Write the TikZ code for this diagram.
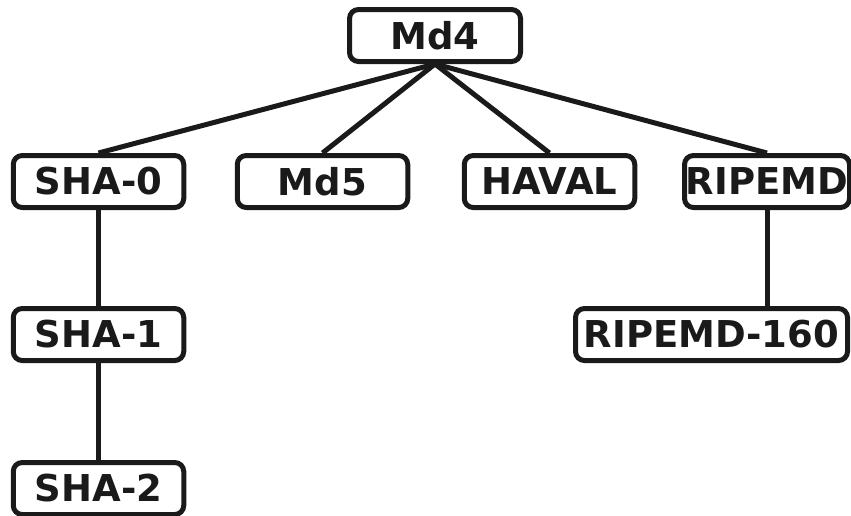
\documentclass[tikz,border=0pt]{standalone}
\usepackage{fontspec}
\setmainfont{DejaVu Sans}
\definecolor{ink}{RGB}{26,26,26}
\begin{document}
\begin{tikzpicture}[x=1pt,y=-1pt,
  hashbox/.style={draw=ink, line width=5pt, rounded corners=9pt, fill=white,
    minimum height=52pt, inner sep=0pt, text=ink,
    font=\fontsize{37}{41}\selectfont\bfseries},
  link/.style={draw=ink, line width=5pt}]
\useasboundingbox (0,0) rectangle (851,515);
% root
\node[hashbox, minimum width=171pt] (md4) at (435,35.5) {Md4};
% first generation
\node[hashbox, minimum width=170.5pt] (sha0) at (98.5,181.5) {SHA-0};
\node[hashbox, minimum width=170.5pt] (md5) at (322.5,181.5) {Md5};
\node[hashbox, minimum width=170.5pt] (haval) at (549.5,181.5) {HAVAL};
\node[hashbox, minimum width=165pt] (ripemd) at (767,181.5) {RIPEMD};
% descendants
\node[hashbox, minimum width=170.5pt] (sha1) at (98.5,334.5) {SHA-1};
\node[hashbox, minimum width=272pt] (ripemd160) at (711.5,334.5) {RIPEMD-160};
\node[hashbox, minimum width=170.5pt] (sha2) at (98.5,488.5) {SHA-2};
% edges
\foreach \child in {sha0,md5,haval,ripemd}
  \draw[link] (md4.south) -- (\child.north);
\draw[link] (sha0.south) -- (sha1.north);
\draw[link] (sha1.south) -- (sha2.north);
\draw[link] (ripemd.south) -- (ripemd.south |- ripemd160.north);
\end{tikzpicture}
\end{document}
